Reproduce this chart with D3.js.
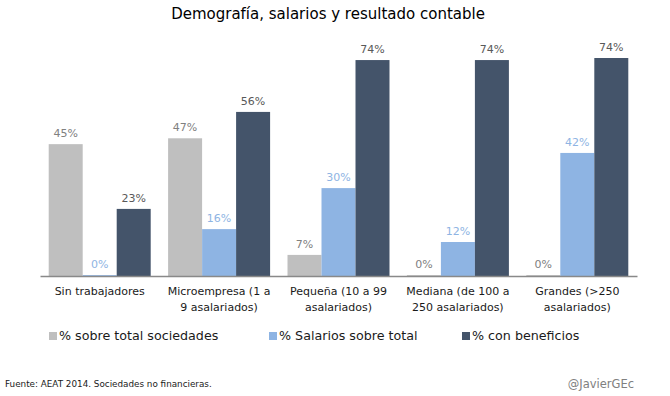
<!DOCTYPE html>
<html>
<head>
<meta charset="utf-8">
<script src="https://cdn.jsdelivr.net/npm/d3@7"></script>
<style>
  body { margin: 0; background: #fff; }
  svg text { font-family: "Century Gothic", "DejaVu Sans", sans-serif; }
</style>
</head>
<body>
<div id="chart"></div>
<script>
const categories = ["Sin trabajadores", "Microempresa (1 a 9 asalariados)", "Pequeña (10 a 99 asalariados)",
                    "Mediana (de 100 a 250 asalariados)", "Grandes (>250 asalariados)"];
const categoryLines = [["Sin trabajadores"], ["Microempresa (1 a", "9 asalariados)"], ["Pequeña (10 a 99", "asalariados)"],
                       ["Mediana (de 100 a", "250 asalariados)"], ["Grandes (>250", "asalariados)"]];
const series = ["% sobre total sociedades", "% Salarios sobre total", "% con beneficios"];
const sociedades = [45, 47, 7.2, 0.3, 0.3];
const salarios = [0.3, 16, 30, 11.6, 42];
const beneficios = [22.9, 56, 73.7, 73.7, 74.4];
const valueLabels = [
    ["45%", "47%", "7%", "0%", "0%"],
    ["0%", "16%", "30%", "12%", "42%"],
    ["23%", "56%", "74%", "74%", "74%"]
];

const colors = ["#bfbfbf", "#8eb4e3", "#44546a"];
const labelColors = ["#808080", "#8eb4e3", "#595959"];
const values = [sociedades, salarios, beneficios];

const width = 670, height = 396;
const svg = d3.select("#chart").append("svg")
    .attr("width", width)
    .attr("height", height);

// title
svg.append("text")
    .attr("x", 328).attr("y", 19)
    .attr("text-anchor", "middle")
    .attr("font-size", 15)
    .attr("fill", "#000")
    .text("Demografía, salarios y resultado contable");

const x0 = d3.scaleBand()
    .domain(categories)
    .range([40, 637]);
const x1 = d3.scaleBand()
    .domain(series)
    .range([0, x0.bandwidth()])
    .paddingOuter(0.256);
const y = d3.scaleLinear()
    .domain([0, 80])
    .range([276, 276 - 80 * 2.93]);

const groups = svg.selectAll("g.group")
    .data(categories)
    .enter().append("g")
    .attr("class", "group")
    .attr("transform", d => "translate(" + x0(d) + ",0)");

series.forEach((s, si) => {
    groups.append("rect")
        .attr("x", x1(s))
        .attr("width", x1.bandwidth())
        .attr("y", (d, i) => y(values[si][i]))
        .attr("height", (d, i) => y(0) - y(values[si][i]))
        .attr("fill", colors[si]);
    groups.append("text")
        .attr("x", x1(s) + x1.bandwidth() / 2)
        .attr("y", (d, i) => y(values[si][i]) - 7)
        .attr("text-anchor", "middle")
        .attr("font-size", 11)
        .attr("fill", labelColors[si])
        .text((d, i) => valueLabels[si][i]);
});

// axis
const axis = svg.append("g")
    .attr("transform", "translate(0," + y(0) + ")")
    .call(d3.axisBottom(x0).tickSize(0).tickSizeOuter(0).tickFormat(""));
axis.select(".domain").attr("stroke", "#898989").attr("stroke-width", 1.3);

// category labels
groups.append("text")
    .attr("x", x0.bandwidth() / 2)
    .attr("y", 295)
    .attr("text-anchor", "middle")
    .attr("font-size", 11)
    .attr("fill", "#1a1a1a")
    .each(function(d, i) {
        const t = d3.select(this);
        categoryLines[i].forEach((line, li) => {
            t.append("tspan")
                .attr("x", x0.bandwidth() / 2)
                .attr("dy", li === 0 ? 0 : 16)
                .text(line);
        });
    });

// legend
const legendX = [49, 269, 462];
const legend = svg.selectAll("g.legend")
    .data(series)
    .enter().append("g")
    .attr("class", "legend")
    .attr("transform", (d, i) => "translate(" + legendX[i] + ",340)");
legend.append("rect")
    .attr("x", 0).attr("y", -8)
    .attr("width", 8).attr("height", 8)
    .attr("fill", (d, i) => colors[i]);
legend.append("text")
    .attr("x", 10).attr("y", 0)
    .attr("font-size", 12.7)
    .attr("fill", "#1a1a1a")
    .text(d => d);

// footer
svg.append("text")
    .attr("x", 5).attr("y", 387)
    .attr("font-size", 8.8)
    .attr("fill", "#1a1a1a")
    .text("Fuente: AEAT 2014. Sociedades no financieras.");
svg.append("text")
    .attr("x", 634).attr("y", 388)
    .attr("text-anchor", "end")
    .attr("font-size", 11.5)
    .attr("fill", "#808080")
    .text("@JavierGEc");
</script>
</body>
</html>
